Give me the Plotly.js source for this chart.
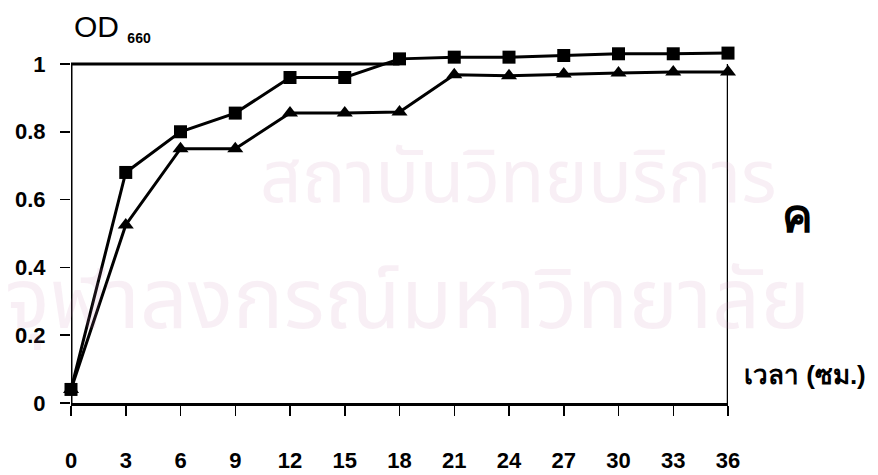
<!DOCTYPE html>
<html>
<head>
<meta charset="utf-8">
<script src="https://cdn.plot.ly/plotly-3.0.1.min.js"></script>
<style>html,body{margin:0;padding:0;background:#fff;}#chart{width:878px;height:475px;}</style>
</head>
<body>
<div id="chart"></div>
<script>
// Data
const hours = [0, 3, 6, 9, 12, 15, 18, 21, 24, 27, 30, 33, 36];
const odSquare = [0.04, 0.68, 0.80, 0.855, 0.96, 0.96, 1.015, 1.02, 1.02, 1.025, 1.03, 1.03, 1.032];
const odTriangle = [0.04, 0.525, 0.75, 0.75, 0.855, 0.855, 0.858, 0.968, 0.965, 0.97, 0.973, 0.976, 0.976];
const xTickVals = [0, 3, 6, 9, 12, 15, 18, 21, 24, 27, 30, 33, 36];
const yTickVals = [0, 0.2, 0.4, 0.6, 0.8, 1];
const yTickText = ['0', '0.2', '0.4', '0.6', '0.8', '1'];

const FONT = 'Arial, "Liberation Sans", sans-serif';
const THAI = '"Noto Sans Thai", "Noto Sans", sans-serif';

const traces = [
  {
    x: hours, y: odTriangle, type: 'scatter', mode: 'lines+markers',
    line: {color: '#000', width: 3},
    marker: {symbol: 'triangle-up', size: 14, color: '#000'},
    cliponaxis: false, showlegend: false
  },
  {
    x: hours, y: odSquare, type: 'scatter', mode: 'lines+markers',
    line: {color: '#000', width: 3},
    marker: {symbol: 'square', size: 13, color: '#000'},
    cliponaxis: false, showlegend: false
  }
];

const wm = 'rgba(200,120,175,0.12)';
const layout = {
  width: 878, height: 475,
  margin: {l: 71, r: 150, t: 47, b: 72},
  paper_bgcolor: '#fff', plot_bgcolor: 'rgba(0,0,0,0)',
  showlegend: false,
  font: {family: FONT, color: '#000'},
  xaxis: {
    range: [0, 36], tickvals: xTickVals, ticktext: xTickVals.map(String),
    showgrid: false, zeroline: false,
    showline: true, linecolor: '#000', linewidth: 3, mirror: false,
    ticks: 'outside', ticklen: 10, tickwidth: 1.5, tickcolor: '#000',
    ticklabelstandoff: 26,
    tickfont: {family: FONT, size: 22, color: '#000', weight: 'bold'}
  },
  xaxis2: {
    overlaying: 'x', range: [0, 36], tickvals: xTickVals, side: 'bottom',
    showgrid: false, zeroline: false, showline: false, showticklabels: false,
    ticks: 'inside', ticklen: 9, tickwidth: 1.5, tickcolor: '#000'
  },
  yaxis: {
    range: [0, 1.05], tickvals: yTickVals, ticktext: yTickText,
    showgrid: false, zeroline: false,
    showline: false,
    ticks: 'outside', ticklen: 10, tickwidth: 1.5, tickcolor: '#000',
    ticklabelstandoff: 10,
    tickfont: {family: FONT, size: 22, color: '#000', weight: 'bold'}
  },
  yaxis2: {
    overlaying: 'y', range: [0, 1.05], tickvals: yTickVals, side: 'left',
    showgrid: false, zeroline: false, showline: false, showticklabels: false,
    ticks: 'inside', ticklen: 9, tickwidth: 1.5, tickcolor: '#000'
  },
  shapes: [
    {type: 'line', xref: 'x', yref: 'y', x0: 0, x1: 0, y0: 0, y1: 1,
     line: {color: '#000', width: 3}},
    {type: 'line', xref: 'x', yref: 'y', x0: 0, x1: 18, y0: 1, y1: 1,
     line: {color: '#000', width: 3}},
    {type: 'line', xref: 'x', yref: 'y', x0: 36, x1: 36, y0: 0, y1: 1,
     line: {color: '#000', width: 2.5}}
  ],
  annotations: [
    {text: 'สถาบันวิทยบริการ', xref: 'paper', yref: 'paper', x: 0.285, y: 0.626,
     xanchor: 'left', yanchor: 'middle', showarrow: false,
     font: {family: THAI, size: 73, color: wm}},
    {text: 'จุฬาลงกรณ์มหาวิทยาลัย', xref: 'paper', yref: 'paper', x: -0.103, y: 0.283,
     xanchor: 'left', yanchor: 'middle', showarrow: false,
     font: {family: THAI, size: 84, color: wm}},
    {text: 'OD <sub><b><span style="font-size:14px">660</span></b></sub>', xref: 'paper', yref: 'paper',
     x: 0.0015, y: 1.053, xanchor: 'left', yanchor: 'middle', showarrow: false,
     font: {family: FONT, size: 30, color: '#000'}},
    {text: '<b>เวลา (ซม.)</b>', xref: 'paper', yref: 'paper', x: 1.021, y: 0.079,
     xanchor: 'left', yanchor: 'middle', showarrow: false,
     font: {family: FONT, size: 26, color: '#000'}},
    {text: '<b>ค</b>', xref: 'paper', yref: 'paper', x: 1.079, y: 0.525,
     xanchor: 'left', yanchor: 'middle', showarrow: false,
     font: {family: FONT, size: 46, color: '#000'}}
  ]
};

Plotly.newPlot('chart', traces, layout, {displayModeBar: false, staticPlot: true});
</script>
</body>
</html>
